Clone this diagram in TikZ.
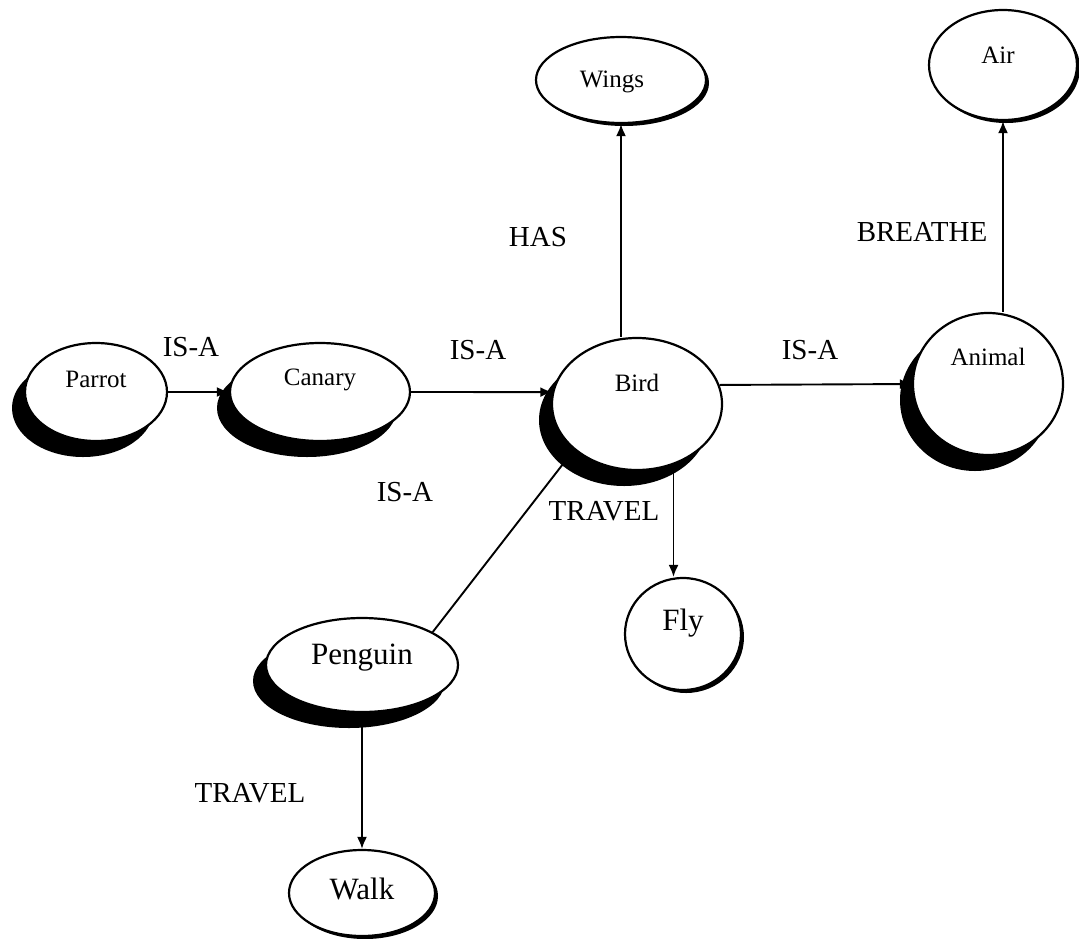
\documentclass[tikz,border=0pt]{standalone}
\usepackage{fontspec}
\setmainfont{Liberation Serif}
\usepackage{tikz}
\usetikzlibrary{shapes.geometric, arrows.meta, positioning, shadows}

\begin{document}
\begin{tikzpicture}[
    x=1pt, y=-1pt,
    heavy/.style={ellipse, draw=black, line width=2.2pt, fill=white, inner sep=0pt,
        drop shadow={shadow xshift=-13pt, shadow yshift=-16pt, fill=black, opacity=1}},
    light/.style={ellipse, draw=black, line width=2.2pt, fill=white, inner sep=0pt,
        drop shadow={shadow xshift=3pt, shadow yshift=-3pt, fill=black, opacity=1}},
    smalltxt/.style={font=\fontsize{25}{30}\selectfont, inner sep=0pt},
    bigtxt/.style={font=\fontsize{31}{36}\selectfont, inner sep=0pt},
    lbl/.style={font=\fontsize{29}{34}\selectfont, inner sep=0pt},
    arrow/.style={line width=1.9pt, -{Latex[length=12pt, width=10pt]}}
]
\useasboundingbox (0,0) rectangle (1079,938);

% concept nodes
\node[heavy, minimum width=142pt, minimum height=98pt,
    label={[smalltxt, yshift=13pt]center:Parrot}] (parrot) at (96,392) {};
\node[heavy, minimum width=180pt, minimum height=98pt,
    label={[smalltxt, yshift=12pt]center:Canary}] (canary) at (320,392) {};
\node[heavy, minimum width=170pt, minimum height=132pt,
    label={[smalltxt, yshift=21pt]center:Bird}] (bird) at (637,404) {};
\node[heavy, minimum width=150pt, minimum height=142pt,
    label={[smalltxt, yshift=27pt]center:Animal}] (animal) at (988,384) {};
\node[heavy, minimum width=192pt, minimum height=94pt,
    label={[bigtxt, yshift=7pt]center:Penguin}] (penguin) at (362,665) {};
\node[light, minimum width=170pt, minimum height=86pt,
    label={[smalltxt, xshift=-9pt, yshift=-2pt]center:Wings}] (wings) at (621,80) {};
\node[light, minimum width=148pt, minimum height=110pt,
    label={[smalltxt, xshift=-5pt, yshift=10pt]center:Air}] (air) at (1003,65) {};
\node[light, minimum width=116pt, minimum height=112pt,
    label={[bigtxt, yshift=11pt]center:Fly}] (fly) at (683,634) {};
\node[light, minimum width=146pt, minimum height=86pt,
    label={[bigtxt, yshift=4pt]center:Walk}] (walk) at (362,893) {};

% relation labels
\node[lbl] (isa1) at (191,347) {IS-A};
\node[lbl] (isa2) at (478,350) {IS-A};
\node[lbl] (isa3) at (810,350) {IS-A};
\node[lbl] (isa4) at (405,492) {IS-A};
\node[lbl] (has) at (538,237) {HAS};
\node[lbl] (breathe) at (922,232) {BREATHE};
\node[lbl] (travel1) at (604,511) {TRAVEL};
\node[lbl] (travel2) at (250,793) {TRAVEL};

% relations
\draw[arrow] (parrot.east) -- (canary.west);
\draw[arrow] (canary.east) -- (bird.172);
\draw[arrow] (wings.south |- bird.north) -- (wings.south);
\draw[arrow] (bird.13) -- (animal.west);
\draw[arrow] (air.south |- animal.north) -- (air.south);
\draw[arrow] (penguin.25) -- (bird.216);
\draw[arrow] (bird.-59) -- (bird.-59 |- fly.north);
\draw[arrow] (penguin.south) -- (walk.north);

\end{tikzpicture}
\end{document}
